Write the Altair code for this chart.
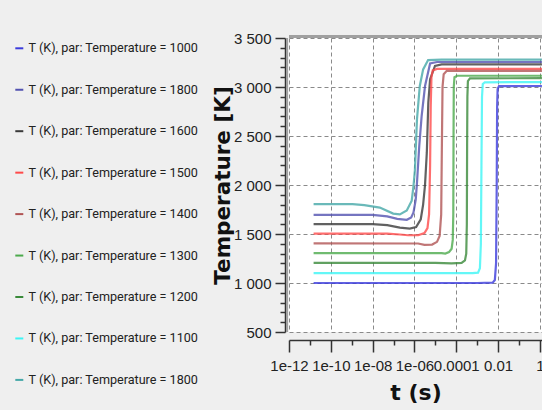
import json
import altair as alt
import pandas as pd

# ---------------- data ----------------
series_ids = ["s1", "s2", "s3", "s4", "s5", "s6", "s7", "s8", "s9"]
legend_labels = [
    "T (K), par: Temperature = 1000",
    "T (K), par: Temperature = 1800",
    "T (K), par: Temperature = 1600",
    "T (K), par: Temperature = 1500",
    "T (K), par: Temperature = 1400",
    "T (K), par: Temperature = 1300",
    "T (K), par: Temperature = 1200",
    "T (K), par: Temperature = 1100",
    "T (K), par: Temperature = 1800",
]
line_colors = ["#3b3bdc", "#5252b0", "#3a3a3a", "#ff4a4a", "#b05454",
               "#4caa4c", "#3a8a3a", "#3cf5f5", "#45a8a8"]

# blue, start 1000
t_s1 = [1.5e-11, 1e-3, 5.5e-3, 7.0e-3, 8.0e-3, 8.6e-3, 9.0e-3, 9.5e-3, 1.1e-2, 1.25]
T_s1 = [1000, 1000, 1003, 1030, 1200, 2000, 2800, 2980, 3008, 3010]
# navy, start 1700
t_s2 = [1.5e-11, 1e-8, 5e-8, 1.5e-7, 4.3e-7, 7e-7, 9e-7, 1.15e-6, 1.3e-6, 1.7e-6, 2.2e-6, 3.2e-6, 5.6e-6, 1.2e-5, 1.25]
T_s2 = [1695, 1695, 1680, 1655, 1645, 1670, 1720, 1850, 2000, 2400, 2700, 3010, 3240, 3255, 3255]
# black, start 1600
t_s3 = [1.5e-11, 1e-8, 5e-8, 2e-7, 6e-7, 1.2e-6, 2.0e-6, 2.6e-6, 3.2e-6, 3.9e-6, 4.6e-6, 5.6e-6, 9.6e-6, 2e-5, 1.25]
T_s3 = [1600, 1600, 1590, 1565, 1555, 1570, 1650, 1800, 2000, 2330, 2840, 3080, 3215, 3230, 3230]
# red, start 1500
t_s4 = [1.5e-11, 5e-8, 2e-7, 5e-7, 1.5e-6, 3e-6, 4.2e-6, 5.0e-6, 5.6e-6, 6.0e-6, 6.5e-6, 7.5e-6, 1.2e-5, 1.25]
T_s4 = [1504, 1504, 1495, 1487, 1487, 1510, 1560, 1700, 2200, 2800, 3100, 3170, 3185, 3185]
# brown, start 1400
t_s5 = [1.5e-11, 1.5e-6, 3e-6, 7e-6, 1.2e-5, 1.6e-5, 1.9e-5, 2.05e-5, 2.2e-5, 2.5e-5, 3.5e-5, 1.25]
T_s5 = [1405, 1403, 1390, 1392, 1420, 1480, 1700, 2400, 3000, 3130, 3165, 3165]
# green, start 1300
t_s6 = [1.5e-11, 2e-5, 3e-5, 4.5e-5, 6e-5, 6.8e-5, 7.2e-5, 7.4e-5, 7.6e-5, 8.2e-5, 1.1e-4, 1.25]
T_s6 = [1305, 1305, 1300, 1315, 1350, 1440, 1700, 2500, 3000, 3100, 3115, 3115]
# dark green, start 1200
t_s7 = [1.5e-11, 1e-5, 6e-5, 1.8e-4, 2.6e-4, 3.0e-4, 3.2e-4, 3.3e-4, 3.4e-4, 3.6e-4, 4.5e-4, 1.25]
T_s7 = [1205, 1205, 1200, 1205, 1230, 1300, 1600, 2400, 2900, 3060, 3088, 3090]
# cyan, start 1100
t_s8 = [1.5e-11, 6e-4, 1.1e-3, 1.35e-3, 1.5e-3, 1.6e-3, 1.7e-3, 1.85e-3, 2.3e-3, 1.25]
T_s8 = [1100, 1100, 1105, 1150, 1400, 2200, 2900, 3030, 3048, 3050]
# teal, start 1800
t_s9 = [1.5e-11, 1.1e-9, 4e-9, 2.2e-8, 9.6e-8, 2e-7, 4.3e-7, 7.4e-7, 9e-7, 1.05e-6, 1.32e-6, 1.8e-6, 2.6e-6, 4.5e-6, 2e-5, 1.25]
T_s9 = [1805, 1805, 1795, 1770, 1708, 1700, 1740, 1840, 1990, 2150, 2670, 3010, 3180, 3275, 3280, 3280]

t_all = [t_s1, t_s2, t_s3, t_s4, t_s5, t_s6, t_s7, t_s8, t_s9]
T_all = [T_s1, T_s2, T_s3, T_s4, T_s5, T_s6, T_s7, T_s8, T_s9]

x_tick_values = [1e-12, 1e-11, 1e-10, 1e-9, 1e-8, 1e-7, 1e-6, 1e-5, 1e-4, 1e-3, 1e-2, 1e-1, 1.0]
x_tick_labels = ["1e-12", "", "1e-10", "", "1e-08", "", "1e-06", "", "0.0001", "", "0.01", "", "1"]
y_tick_values = list(range(500, 3501, 100))

rows = []
for sid, ts, Ts in zip(series_ids, t_all, T_all):
    for t, T in zip(ts, Ts):
        rows.append({"series": sid, "t": t, "T": T})
df = pd.DataFrame(rows)

# ---------------- styling ----------------
FONT_AX = "Liberation Sans, Arial, sans-serif"
FONT_LEG = "Roboto, Liberation Sans, sans-serif"
FONT_TITLE = "DejaVu Sans, Verdana, sans-serif"
AX_COL = "#333333"
GRID_COL = "#8a8a8a"

x_even = "abs(round(log(datum.value)/LN10)) % 2 == 0"
x_label_expr = json.dumps(x_tick_labels) + "[round(log(datum.value)/LN10) + 12]"
y_major = "datum.value % 500 == 0"
y_label_expr = "datum.value % 500 == 0 ? replace(format(datum.value, ','), ',', ' ') : ''"
leg_label_expr = json.dumps(legend_labels) + "[indexof(" + json.dumps(series_ids) + ", datum.value)]"

x_axis = alt.Axis(
    values=x_tick_values, tickCount=100, labelExpr=x_label_expr, labelFont=FONT_AX, labelFontSize=15,
    labelColor="#222222", labelOverlap=False, labelFlush=False, labelPadding=6,
    tickSize={"condition": {"test": x_even, "value": 12}, "value": 5},
    tickColor=AX_COL, tickWidth=1.5, domainColor=AX_COL, domainWidth=1.5, offset=8,
    grid=True, gridColor=GRID_COL, gridDash=[4, 3], gridWidth=1,
    gridOpacity={"condition": {"test": x_even, "value": 1}, "value": 0},
    title="t (s)", titleFont=FONT_TITLE, titleFontSize=22, titleFontWeight="bold",
    titleColor="#111111", titlePadding=9,
)
y_axis = alt.Axis(
    values=y_tick_values, tickCount=100, labelExpr=y_label_expr, labelFont=FONT_AX, labelFontSize=15,
    labelColor="#222222", labelOverlap=False, labelFlush=False, labelPadding=4,
    tickSize={"condition": {"test": y_major, "value": 10}, "value": 5},
    tickColor=AX_COL, tickWidth=1.5, domainColor=AX_COL, domainWidth=1.5, offset=4,
    grid=True, gridColor=GRID_COL, gridDash=[4, 3], gridWidth=1,
    gridOpacity={"condition": {"test": y_major, "value": 1}, "value": 0},
    title="Temperature [K]", titleFont=FONT_TITLE, titleFontSize=21.5, titleFontWeight="bold",
    titleColor="#111111", titlePadding=-1,
)

lines = alt.Chart(df).mark_line(strokeWidth=2.2, opacity=0.8, clip=True).encode(
    x=alt.X("t:Q", scale=alt.Scale(type="log", domain=[1e-12, 10 ** 0.1], nice=False), axis=x_axis),
    y=alt.Y("T:Q", scale=alt.Scale(domain=[500, 3500], nice=False, zero=False), axis=y_axis),
    color=alt.Color(
        "series:N",
        scale=alt.Scale(domain=series_ids, range=line_colors),
        legend=alt.Legend(
            orient="none", legendX=-276, legendY=4, title=None, symbolType="stroke",
            symbolSize=64, symbolStrokeWidth=2, symbolOpacity=1, labelFont=FONT_LEG,
            labelFontSize=12.6, labelColor="#222222", labelExpr=leg_label_expr, labelLimit=0,
            rowPadding=28.45, labelOffset=3, padding=0,
        ),
    ),
    detail="series:N",
)

frame_left = alt.Chart(df).mark_rule(color="#a0a0a0", strokeWidth=2, xOffset=-2).encode(
    x=alt.datum(1e-12)
)
frame_top = alt.Chart(df).mark_rule(color="#a0a0a0", strokeWidth=2, yOffset=-1.5).encode(
    y=alt.datum(3500)
)

chart = alt.layer(lines, frame_left, frame_top).properties(
    width=253, height=294,
    autosize=alt.AutoSizeParams(type="none"),
    padding={"left": 289, "top": 38, "right": 0, "bottom": 78},
    background="#efefef",
).configure_view(fill="white", stroke=None)

chart.save("out.html", embed_options={"renderer": "svg", "actions": False})
